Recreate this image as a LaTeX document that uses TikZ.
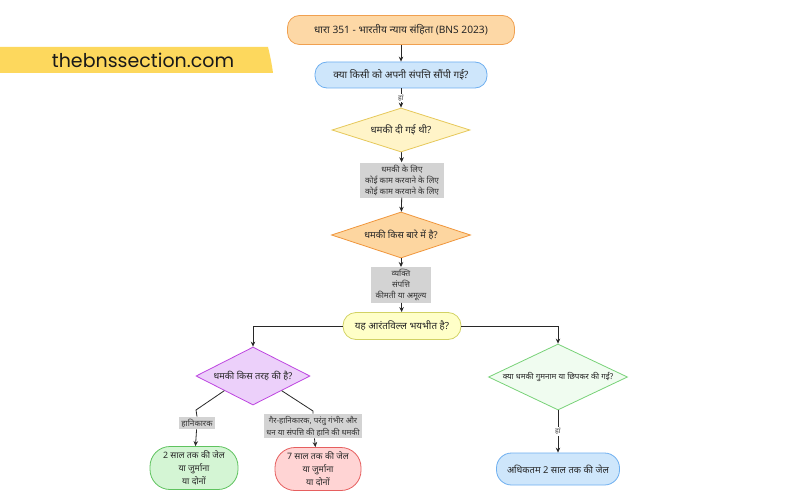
\documentclass[tikz,border=0pt]{standalone}
\usepackage{fontspec}
\setmainfont{Noto Sans}[Script=Devanagari]
\newfontfamily\webfont{Poppins}
\usetikzlibrary{shapes.geometric,arrows.meta}
\definecolor{orgfill}{RGB}{253,216,166}
\definecolor{orgline}{RGB}{240,160,80}
\definecolor{bluefill}{RGB}{206,230,251}
\definecolor{blueline}{RGB}{110,175,240}
\definecolor{yelfill}{RGB}{255,244,200}
\definecolor{yelline}{RGB}{230,200,90}
\definecolor{odfill}{RGB}{253,214,160}
\definecolor{odline}{RGB}{240,150,60}
\definecolor{grayfill}{RGB}{211,211,211}
\definecolor{ynfill}{RGB}{255,255,200}
\definecolor{ynline}{RGB}{210,210,100}
\definecolor{purfill}{RGB}{236,208,250}
\definecolor{purline}{RGB}{190,70,225}
\definecolor{gdfill}{RGB}{240,252,240}
\definecolor{gdline}{RGB}{120,210,120}
\definecolor{gnfill}{RGB}{212,245,212}
\definecolor{gnline}{RGB}{95,195,95}
\definecolor{rnfill}{RGB}{255,212,212}
\definecolor{rnline}{RGB}{230,95,95}
\definecolor{bannery}{RGB}{253,216,93}
\definecolor{linec}{RGB}{40,40,40}
\begin{document}
\begin{tikzpicture}[x=1pt,y=-1pt,
  pill/.style={draw, line width=0.8pt, align=center, inner sep=2pt, text=black!85},
  dia/.style={diamond, draw, line width=0.8pt, align=center, inner sep=0pt, text=black!85},
  gbox/.style={fill=grayfill, align=center, inner sep=2pt, font=\fontsize{8.2}{11}\selectfont, text=black!80},
  lbl/.style={fill=white, inner sep=1pt, font=\fontsize{7}{7}\selectfont, text=black!75},
  line/.style={draw=linec, line width=0.8pt},
  arr/.style={line, -{Stealth[length=5pt,width=4.5pt]}}]
\useasboundingbox (0,0) rectangle (800,500);
\fill[white] (0,0) rectangle (800,500);
% banner
\fill[bannery] (0,47) -- (268,47) .. controls (270,55) and (272,65) .. (273,73) -- (0,73) -- cycle;
\node[font=\webfont\fontsize{19}{20}\selectfont, text=black!90] (web) at (143,60) {thebnssection.com};
% nodes
\node[pill, fill=orgfill, draw=orgline, minimum width=227pt, minimum height=29pt, rounded corners=12pt, font=\fontsize{10.2}{11}\selectfont] (top) at (401,30) {धारा 351 - भारतीय न्याय संहिता (BNS 2023)};
\node[pill, fill=bluefill, draw=blueline, minimum width=172pt, minimum height=26pt, rounded corners=12pt, font=\fontsize{10}{11}\selectfont] (q1) at (401,75) {क्या किसी को अपनी संपत्ति सौंपी गई?};
\node[dia, aspect=3, fill=yelfill, draw=yelline, minimum width=138pt, minimum height=44pt, font=\fontsize{9.8}{11}\selectfont] (d1) at (401,130) {धमकी दी गई थी?};
\node[gbox, minimum width=84pt, minimum height=35pt] (b1) at (402,180) {धमकी के लिए\\कोई काम करवाने के लिए\\कोई काम करवाने के लिए};
\node[dia, aspect=3, fill=odfill, draw=odline, minimum width=139pt, minimum height=46pt, font=\fontsize{9.4}{11}\selectfont] (d2) at (401,235) {धमकी किस बारे में है?};
\node[gbox, minimum width=60pt, minimum height=35pt] (b2) at (401,285) {व्यक्ति\\संपत्ति\\कीमती या अमूल्य};
\node[pill, fill=ynfill, draw=ynline, minimum width=118pt, minimum height=27pt, rounded corners=13pt, font=\fontsize{9.8}{11}\selectfont] (yes) at (402,326) {यह आरंतविल्ल भयभीत है?};
\node[dia, aspect=2, fill=purfill, draw=purline, minimum width=114pt, minimum height=58pt, font=\fontsize{9.3}{11}\selectfont] (pd) at (253,376) {धमकी किस तरह की है?};
\node[dia, aspect=2.1, fill=gdfill, draw=gdline, minimum width=139pt, minimum height=66pt, font=\fontsize{8}{9}\selectfont] (gd) at (558,377) {क्या धमकी गुमनाम या छिपकर की गई?};
\node[gbox, font=\fontsize{8.2}{9}\selectfont] (l1) at (197,423) {हानिकारक};
\node[gbox, font=\fontsize{8}{12}\selectfont] (l2) at (313,426) {गैर-हानिकारक, परंतु गंभीर और\\धन या संपत्ति की हानि की धमकी};
\node[pill, fill=gnfill, draw=gnline, minimum width=88pt, minimum height=43pt, rounded corners=20pt, font=\fontsize{8.8}{13}\selectfont] (gn) at (194,468) {2 साल तक की जेल\\या जुर्माना\\या दोनों};
\node[pill, fill=rnfill, draw=rnline, minimum width=86pt, minimum height=43pt, rounded corners=20pt, font=\fontsize{8.8}{13}\selectfont] (rn) at (318,469) {7 साल तक की जेल\\या जुर्माना\\या दोनों};
\node[pill, fill=bluefill, draw=blueline, minimum width=123pt, minimum height=32pt, rounded corners=15pt, font=\fontsize{9.4}{11}\selectfont] (bn) at (558,469) {अधिकतम 2 साल तक की जेल};
\coordinate (k1) at (196,410);
\coordinate (k2) at (313,411);
% connectors
\draw[arr] (top) -- (q1);
\draw[arr] (q1) -- node[lbl] (h1) {हां} (d1);
\draw[arr] (d1) -- (b1);
\draw[arr] (b1) -- (d2);
\draw[arr] (d2) -- (b2);
\draw[arr] (b2) -- (yes);
\draw[arr] (yes.west) -| (pd.north);
\draw[arr] (yes.east) -| (gd.north);
\draw[line] (pd.south west) -- (k1) -- (l1.north);
\draw[arr] (l1) -- (gn);
\draw[line] (pd.south east) -- (k2) -- (l2.north);
\draw[arr] (l2) -- (rn);
\draw[arr] (gd) -- node[lbl] (h2) {हां} (bn);
\end{tikzpicture}
\end{document}
